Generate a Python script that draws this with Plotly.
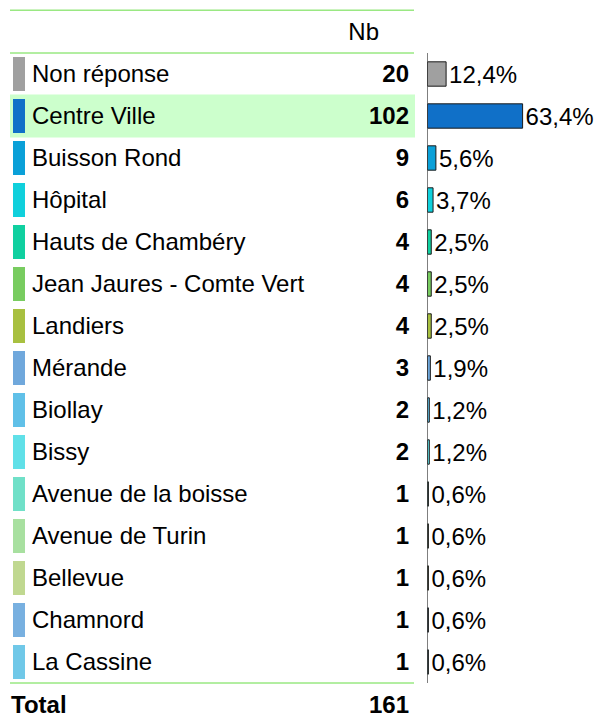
import plotly.graph_objs as go

# data
quartiers = ['Non réponse', 'Centre Ville', 'Buisson Rond', 'Hôpital', 'Hauts de Chambéry',
             'Jean Jaures - Comte Vert', 'Landiers', 'Mérande', 'Biollay', 'Bissy',
             'Avenue de la boisse', 'Avenue de Turin', 'Bellevue', 'Chamnord', 'La Cassine']
nb = [20, 102, 9, 6, 4, 4, 4, 3, 2, 2, 1, 1, 1, 1, 1]
pct = [12.4, 63.4, 5.6, 3.7, 2.5, 2.5, 2.5, 1.9, 1.2, 1.2, 0.6, 0.6, 0.6, 0.6, 0.6]
colors = ['#a0a0a0', '#1070c8', '#0aa0d8', '#10d0dc', '#10d0a0', '#78cc60', '#a8c040',
          '#70a8dc', '#60c0e8', '#60e0e8', '#70e0c8', '#a8e0a0', '#c0d890', '#78b0e0', '#70c8e8']
total = 161
highlight = 'Centre Ville'

FONT = 'Liberation Sans, Arial, sans-serif'
FS = 24
W, H = 610, 718
rows = list(range(len(quartiers)))
trow = [r + 0.05 for r in rows]  # text sits a touch lower than the row centre
hl = quartiers.index(highlight)

fig = go.Figure()

# highlighted row background
fig.add_trace(go.Bar(y=[hl], x=[405], base=[10], width=[1.02], orientation='h',
                     marker=dict(color='#ccffcc', line_width=0), xaxis='x', yaxis='y',
                     hoverinfo='skip', showlegend=False))

# colour swatches
fig.add_trace(go.Bar(y=rows, x=[12] * len(rows), base=[13] * len(rows), width=0.81,
                     orientation='h', marker=dict(color=colors, line_width=0),
                     xaxis='x', yaxis='y', hoverinfo='skip', showlegend=False))

# labels
fig.add_trace(go.Scatter(y=trow, x=[32] * len(rows), mode='text', text=quartiers,
                         textposition='middle right', textfont=dict(size=FS, color='black', family=FONT),
                         xaxis='x', yaxis='y', showlegend=False, hoverinfo='skip'))

# counts
fig.add_trace(go.Scatter(y=trow, x=[409] * len(rows), mode='text',
                         text=['<b>%d</b>' % v for v in nb],
                         textposition='middle left', textfont=dict(size=FS, color='black', family=FONT),
                         xaxis='x', yaxis='y', showlegend=False, hoverinfo='skip'))

# header + total
fig.add_trace(go.Scatter(y=[-0.95, 15.07, 15.07], x=[379, 11, 409], mode='text',
                         text=['Nb', '<b>Total</b>', '<b>%d</b>' % total],
                         textposition=['middle left', 'middle right', 'middle left'],
                         textfont=dict(size=FS, color='black', family=FONT),
                         xaxis='x', yaxis='y', showlegend=False, hoverinfo='skip'))

# percentage bars
fig.add_trace(go.Bar(y=rows, x=pct, orientation='h', width=0.58,
                     marker=dict(color=colors, line=dict(color='#1a1a1a', width=1)),
                     text=[('%.1f%%' % v).replace('.', ',') for v in pct],
                     textposition='outside', cliponaxis=False, constraintext='none',
                     textfont=dict(size=FS, color='black', family=FONT),
                     xaxis='x2', yaxis='y', showlegend=False))

# table rules
for yy in [-1.52, -0.5, 14.5]:
    fig.add_shape(type='line', xref='x', yref='y', x0=10, x1=414, y0=yy, y1=yy,
                  line=dict(color='#66dd44', width=1))
fig.add_shape(type='line', xref='x2', yref='y', x0=0, x1=0, y0=-0.5, y1=14.5,
              line=dict(color='black', width=1))

split = 427.5 / W
fig.update_layout(
    width=W, height=H,
    margin=dict(l=0, r=0, t=0, b=0),
    paper_bgcolor='white', plot_bgcolor='white',
    barmode='overlay',
    xaxis=dict(domain=[0, split], range=[0, 427.5], visible=False, fixedrange=True),
    xaxis2=dict(domain=[split, 1], range=[0, (W - 427.5) / 1.5], visible=False, fixedrange=True),
    yaxis=dict(range=[(H - 74) / 42, -74 / 42], visible=False, fixedrange=True),
    font=dict(family=FONT, size=FS),
)

fig.write_html("out.html", config={'displayModeBar': False},
               post_script="document.body.style.margin='0';document.body.style.overflow='hidden';")
